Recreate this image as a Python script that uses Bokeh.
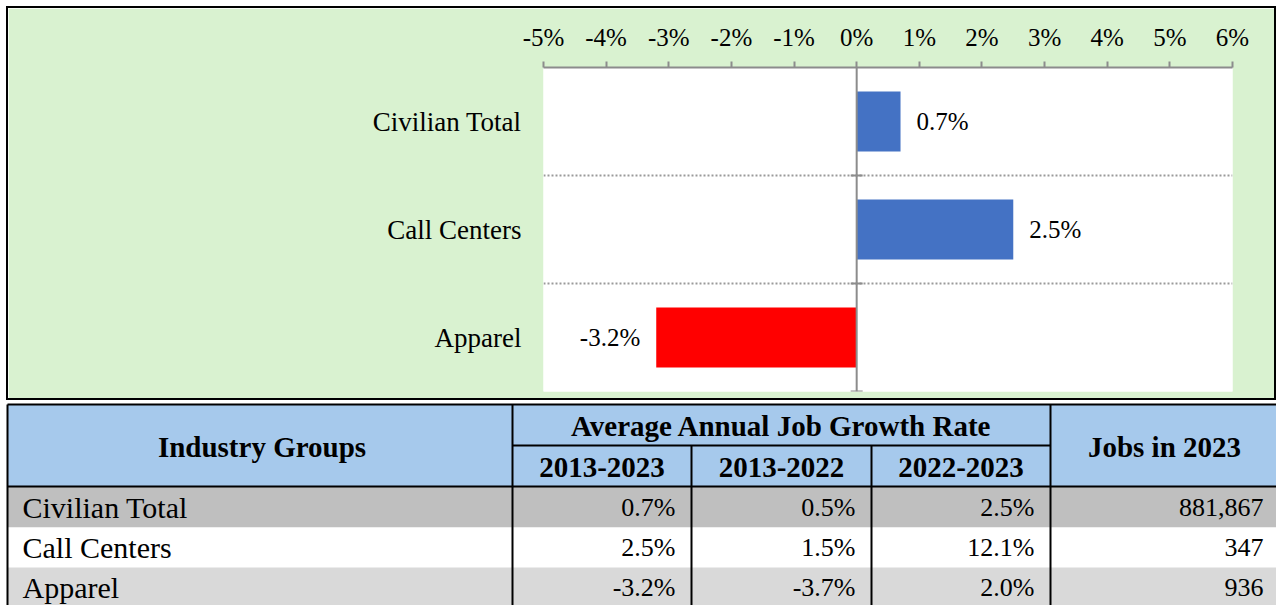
from bokeh.plotting import figure
from bokeh.layouts import column
from bokeh.models import Range1d, FixedTicker, Span, ColumnDataSource
from bokeh.core.properties import value
from bokeh.embed import file_html
from bokeh.resources import INLINE

# ---------------- data ----------------
industries = ["Civilian Total", "Call Centers", "Apparel"]
growth_2013_2023 = [0.7, 2.5, -3.2]
growth_2013_2022 = [0.5, 1.5, -3.7]
growth_2022_2023 = [2.5, 12.1, 2.0]
jobs_2023 = [881867, 347, 936]
x_ticks = [-5, -4, -3, -2, -1, 0, 1, 2, 3, 4, 5, 6]
header_main = "Industry Groups"
header_group = "Average Annual Job Growth Rate"
header_years = ["2013-2023", "2013-2022", "2022-2023"]
header_jobs = "Jobs in 2023"

SERIF = "Liberation Serif"
GREEN = "#d9f2d0"

# ---------------- chart ----------------
n = len(industries)
ypos = [n - i - 0.5 for i in range(n)]
colors = ["#4472c4" if v >= 0 else "#ff0000" for v in growth_2013_2023]

p = figure(width=1266, height=390, output_backend="svg", toolbar_location=None,
           x_range=Range1d(-5, 6), y_range=Range1d(0, n),
           x_axis_location="above",
           min_border_left=535, min_border_right=42, min_border_top=59, min_border_bottom=7)
p.frame_align = False
p.border_fill_color = GREEN
p.background_fill_color = "white"
p.outline_line_color = None

p.xaxis.ticker = FixedTicker(ticks=x_ticks)
p.xaxis.major_label_overrides = {t: f"{t}%" for t in x_ticks}
p.xaxis.major_label_text_font = SERIF
p.xaxis.major_label_text_font_size = "25px"
p.xaxis.major_label_text_color = "black"
p.xaxis.axis_line_color = "#8c8c8c"
p.xaxis.axis_line_width = 2
p.xaxis.major_tick_line_color = "#8c8c8c"
p.xaxis.major_tick_line_width = 2
p.xaxis.major_tick_out = 6
p.xaxis.major_tick_in = 0
p.xaxis.minor_tick_line_color = None
p.xaxis.major_label_standoff = 11

p.yaxis.ticker = FixedTicker(ticks=ypos)
p.yaxis.major_label_overrides = {y: lab for y, lab in zip(ypos, industries)}
p.yaxis.major_label_text_font = SERIF
p.yaxis.major_label_text_font_size = "27px"
p.yaxis.major_label_text_color = "black"
p.yaxis.axis_line_color = None
p.yaxis.major_tick_line_color = None
p.yaxis.minor_tick_line_color = None
p.yaxis.major_label_standoff = 16

p.xgrid.grid_line_color = None
p.ygrid.ticker = FixedTicker(ticks=list(range(n)))
p.ygrid.grid_line_color = "#9a9a9a"
p.ygrid.grid_line_dash = "2 2"
p.ygrid.grid_line_width = 2

src = ColumnDataSource(dict(y=ypos, v=growth_2013_2023, c=colors))
p.hbar(y="y", left=0, right="v", height=0.555, fill_color="c", line_color=None, source=src)

p.add_layout(Span(location=0, dimension="height", line_color="#8c8c8c", line_width=2))
p.scatter(x=[0] * n, y=list(range(n)), marker="dash", size=12,
          line_color="#8c8c8c", line_width=2)

pos_idx = [i for i, v in enumerate(growth_2013_2023) if v >= 0]
neg_idx = [i for i, v in enumerate(growth_2013_2023) if v < 0]
p.text(x=[growth_2013_2023[i] for i in pos_idx], y=[ypos[i] for i in pos_idx],
       text=[f"{growth_2013_2023[i]:.1f}%" for i in pos_idx],
       x_offset=16, text_align="left", text_baseline="middle",
       text_font=value(SERIF), text_font_size="25px", text_color="black")
p.text(x=[growth_2013_2023[i] for i in neg_idx], y=[ypos[i] for i in neg_idx],
       text=[f"{growth_2013_2023[i]:.1f}%" for i in neg_idx],
       x_offset=-16, text_align="right", text_baseline="middle",
       text_font=value(SERIF), text_font_size="25px", text_color="black")

panel = column(p, styles={"border": "2px solid black", "margin-left": "6px",
                          "margin-top": "6px"})

# ---------------- table ----------------
t = figure(width=1276, height=205, output_backend="svg", toolbar_location=None,
           x_range=Range1d(0, 1276), y_range=Range1d(605, 400),
           min_border=0, x_axis_type=None, y_axis_type=None)
t.frame_align = False
t.outline_line_color = None
t.grid.visible = False
t.border_fill_color = "white"
t.background_fill_color = "white"

col_edges = [7, 512, 691, 871, 1050, 1280]
top, mid, hdr_bot = 404, 445, 486
row_edges = [486, 527, 567, 610]
row_fills = ["#bfbfbf", "#ffffff", "#d9d9d9"]

t.quad(left=[col_edges[0]], right=[col_edges[-1]], top=[top], bottom=[hdr_bot],
       fill_color="#a6c9ec", line_color=None)
t.quad(left=[col_edges[0]] * n, right=[col_edges[-1]] * n,
       top=row_edges[:-1], bottom=row_edges[1:], fill_color=row_fills, line_color=None)

# borders
t.segment(x0=[col_edges[0], col_edges[0], col_edges[1]],
          x1=[col_edges[-1], col_edges[-1], col_edges[4]],
          y0=[top, hdr_bot, mid], y1=[top, hdr_bot, mid],
          line_color="black", line_width=2)
t.segment(x0=[col_edges[0], col_edges[1], col_edges[4]],
          x1=[col_edges[0], col_edges[1], col_edges[4]],
          y0=[top] * 3, y1=[610] * 3, line_color="black", line_width=2)
t.segment(x0=[col_edges[2], col_edges[3]], x1=[col_edges[2], col_edges[3]],
          y0=[mid] * 2, y1=[610] * 2, line_color="black", line_width=2)

hdr_kw = dict(text_font=value(SERIF), text_font_size="29px", text_font_style="bold",
              text_color="black", text_align="center", text_baseline="middle")
t.text(x=[(col_edges[0] + col_edges[1]) / 2 + 2, 1164],
       y=[(top + hdr_bot) / 2 + 1] * 2, text=[header_main, header_jobs], **hdr_kw)
t.text(x=[(col_edges[1] + col_edges[4]) / 2], y=[(top + mid) / 2 + 1],
       text=[header_group], **hdr_kw)
t.text(x=[(col_edges[k] + col_edges[k + 1]) / 2 for k in range(1, 4)],
       y=[(mid + hdr_bot) / 2 + 1] * 3, text=header_years, **hdr_kw)

row_y = [507, 547, 587]
t.text(x=[22] * n, y=row_y, text=industries, text_align="left", text_baseline="middle",
       text_font=value(SERIF), text_font_size="30px", text_color="black")
num_kw = dict(text_font=value(SERIF), text_font_size="26px", text_color="black",
              text_baseline="middle", text_align="right")
for k, vals in enumerate([growth_2013_2023, growth_2013_2022, growth_2022_2023]):
    t.text(x=[col_edges[k + 2] - 16] * n, y=row_y, text=[f"{v:.1f}%" for v in vals], **num_kw)
t.text(x=[1263] * n, y=row_y, text=[f"{v:,}" for v in jobs_2023], **num_kw)

layout = column(panel, t, spacing=0)
open("out.html", "w").write(file_html(layout, INLINE))
